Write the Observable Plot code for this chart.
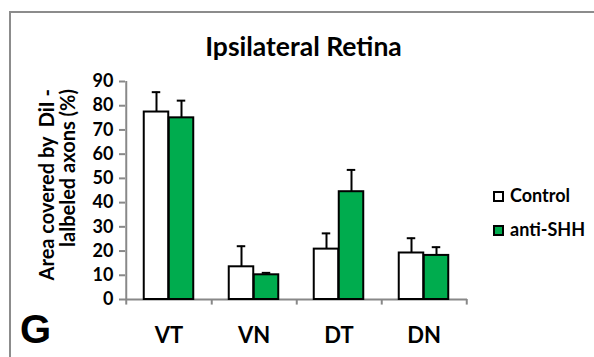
<!DOCTYPE html>
<html><head><meta charset="utf-8">
<script src="https://cdn.jsdelivr.net/npm/d3@7"></script>
<script src="https://cdn.jsdelivr.net/npm/@observablehq/plot@0.6"></script>
<style>
body{margin:0;background:#fff;}
#wrap{position:relative;width:594px;height:357px;overflow:hidden;font-family:Lato,"Open Sans",sans-serif;color:#000;}
#border{position:absolute;left:9px;top:11px;width:620px;height:400px;border-left:2px solid #8c8c8c;border-top:2px solid #8c8c8c;}
#chart{position:absolute;left:0;top:0;}
#title{position:absolute;left:0;width:607px;top:33px;text-align:center;font-weight:bold;font-size:26.5px;line-height:26.5px;white-space:nowrap;}
#ylab{position:absolute;left:35.5px;top:289px;width:200px;transform-origin:0 0;transform:rotate(-90deg);text-align:right;font-weight:bold;font-size:20px;line-height:20.7px;white-space:nowrap;}
#glabel{position:absolute;left:20px;top:309px;font-family:"Liberation Sans",Arial,sans-serif;font-weight:bold;font-size:40px;line-height:40px;}
.leg{position:absolute;left:493px;font-weight:bold;font-size:18px;line-height:18px;white-space:nowrap;}
.sw{display:inline-block;width:7px;height:7px;border:2px solid #000;vertical-align:middle;margin-right:6px;position:relative;top:-1px;}
</style></head>
<body>
<div id="wrap">
  <div id="border"></div>
  <div id="chart"></div>
  <div id="title"></div>
  <div id="ylab"></div>
  <div id="glabel">G</div>
  <div id="legend"></div>
</div>
<script>
const categories = ["VT", "VN", "DT", "DN"];
const series = ["Control", "anti-SHH"];
const controlMean = [77.4, 13.5, 20.8, 19.2];
const controlErr = [8.2, 8.5, 6.5, 6.1];
const antiMean = [75.0, 10.2, 44.5, 18.2];
const antiErr = [7.1, 0.8, 9.0, 3.4];
const yTicks = [0, 10, 20, 30, 40, 50, 60, 70, 80, 90];
const titleText = "Ipsilateral Retina";
const yLabelLines = ["Area covered by  DiI -", "lalbeled axons (%)"];
const colors = ["#ffffff", "#00ac4e"];

const W = 594, H = 357, mL = 125, mR = 127, mT = 81, mB = 58;
const bw = (W - mL - mR) / categories.length;
const barW = 25;
const outer = (bw - 2 * barW) / 2;

const means = [controlMean, antiMean];
const errs = [controlErr, antiErr];

const marks = [];
marks.push(Plot.ruleY([0], {stroke: "#888", strokeWidth: 2}));
marks.push(Plot.ruleX([categories[0]], {x: d => d, dx: -bw / 2, y1: 0, y2: d3.max(yTicks), stroke: "#888", strokeWidth: 2}));
marks.push(Plot.ruleX([categories[0]], {x: d => d, dx: -bw / 2, y1: 0, y2: -2.3, stroke: "#888", strokeWidth: 2}));
marks.push(Plot.ruleX(categories, {x: d => d, dx: bw / 2, y1: 0, y2: -2.3, stroke: "#888", strokeWidth: 2}));

series.forEach((s, k) => {
  const sub = categories.map((c, i) => ({cat: c, series: s, mean: means[k][i], upper: means[k][i] + errs[k][i]}));
  const left = outer + k * barW;
  const cx = left + barW / 2;
  marks.push(Plot.ruleX(sub, {x: "cat", y1: "mean", y2: "upper", dx: cx - bw / 2, stroke: "#000", strokeWidth: 2}));
  marks.push(Plot.tickY(sub, {x: "cat", y: "upper", insetLeft: cx - 4.5, insetRight: bw - cx - 4.5, stroke: "#000", strokeWidth: 2}));
  marks.push(Plot.barY(sub, {x: "cat", y: "mean", fill: colors[k], stroke: "#000", strokeWidth: 2, insetLeft: left, insetRight: bw - left - barW}));
});

marks.push(Plot.axisY({ticks: yTicks, tickSize: 6, tickPadding: 6, stroke: "#888", strokeWidth: 2, fill: "#000", fontSize: 18, label: null}));
marks.push(Plot.axisX({tickSize: 0, tickPadding: 28, fontSize: 22, label: null, fill: "#000"}));

const chart = Plot.plot({
  width: W, height: H,
  marginLeft: mL, marginRight: mR, marginTop: mT, marginBottom: mB,
  style: {fontFamily: "Lato, 'Open Sans', sans-serif", fontWeight: "bold", background: "transparent", color: "#000"},
  x: {domain: categories, padding: 0},
  y: {domain: [0, d3.max(yTicks)]},
  marks
});
document.getElementById("chart").appendChild(chart);

document.getElementById("title").textContent = titleText;
document.getElementById("ylab").innerHTML = yLabelLines.map(t => `<div>${t.replace(/  /g, "&nbsp; ")}</div>`).join("");
const legendTops = [186, 220];
document.getElementById("legend").innerHTML = series.map((s, k) =>
  `<div class="leg" style="top:${legendTops[k]}px"><span class="sw" style="background:${colors[k]}"></span>${s}</div>`).join("");
</script>
</body></html>
